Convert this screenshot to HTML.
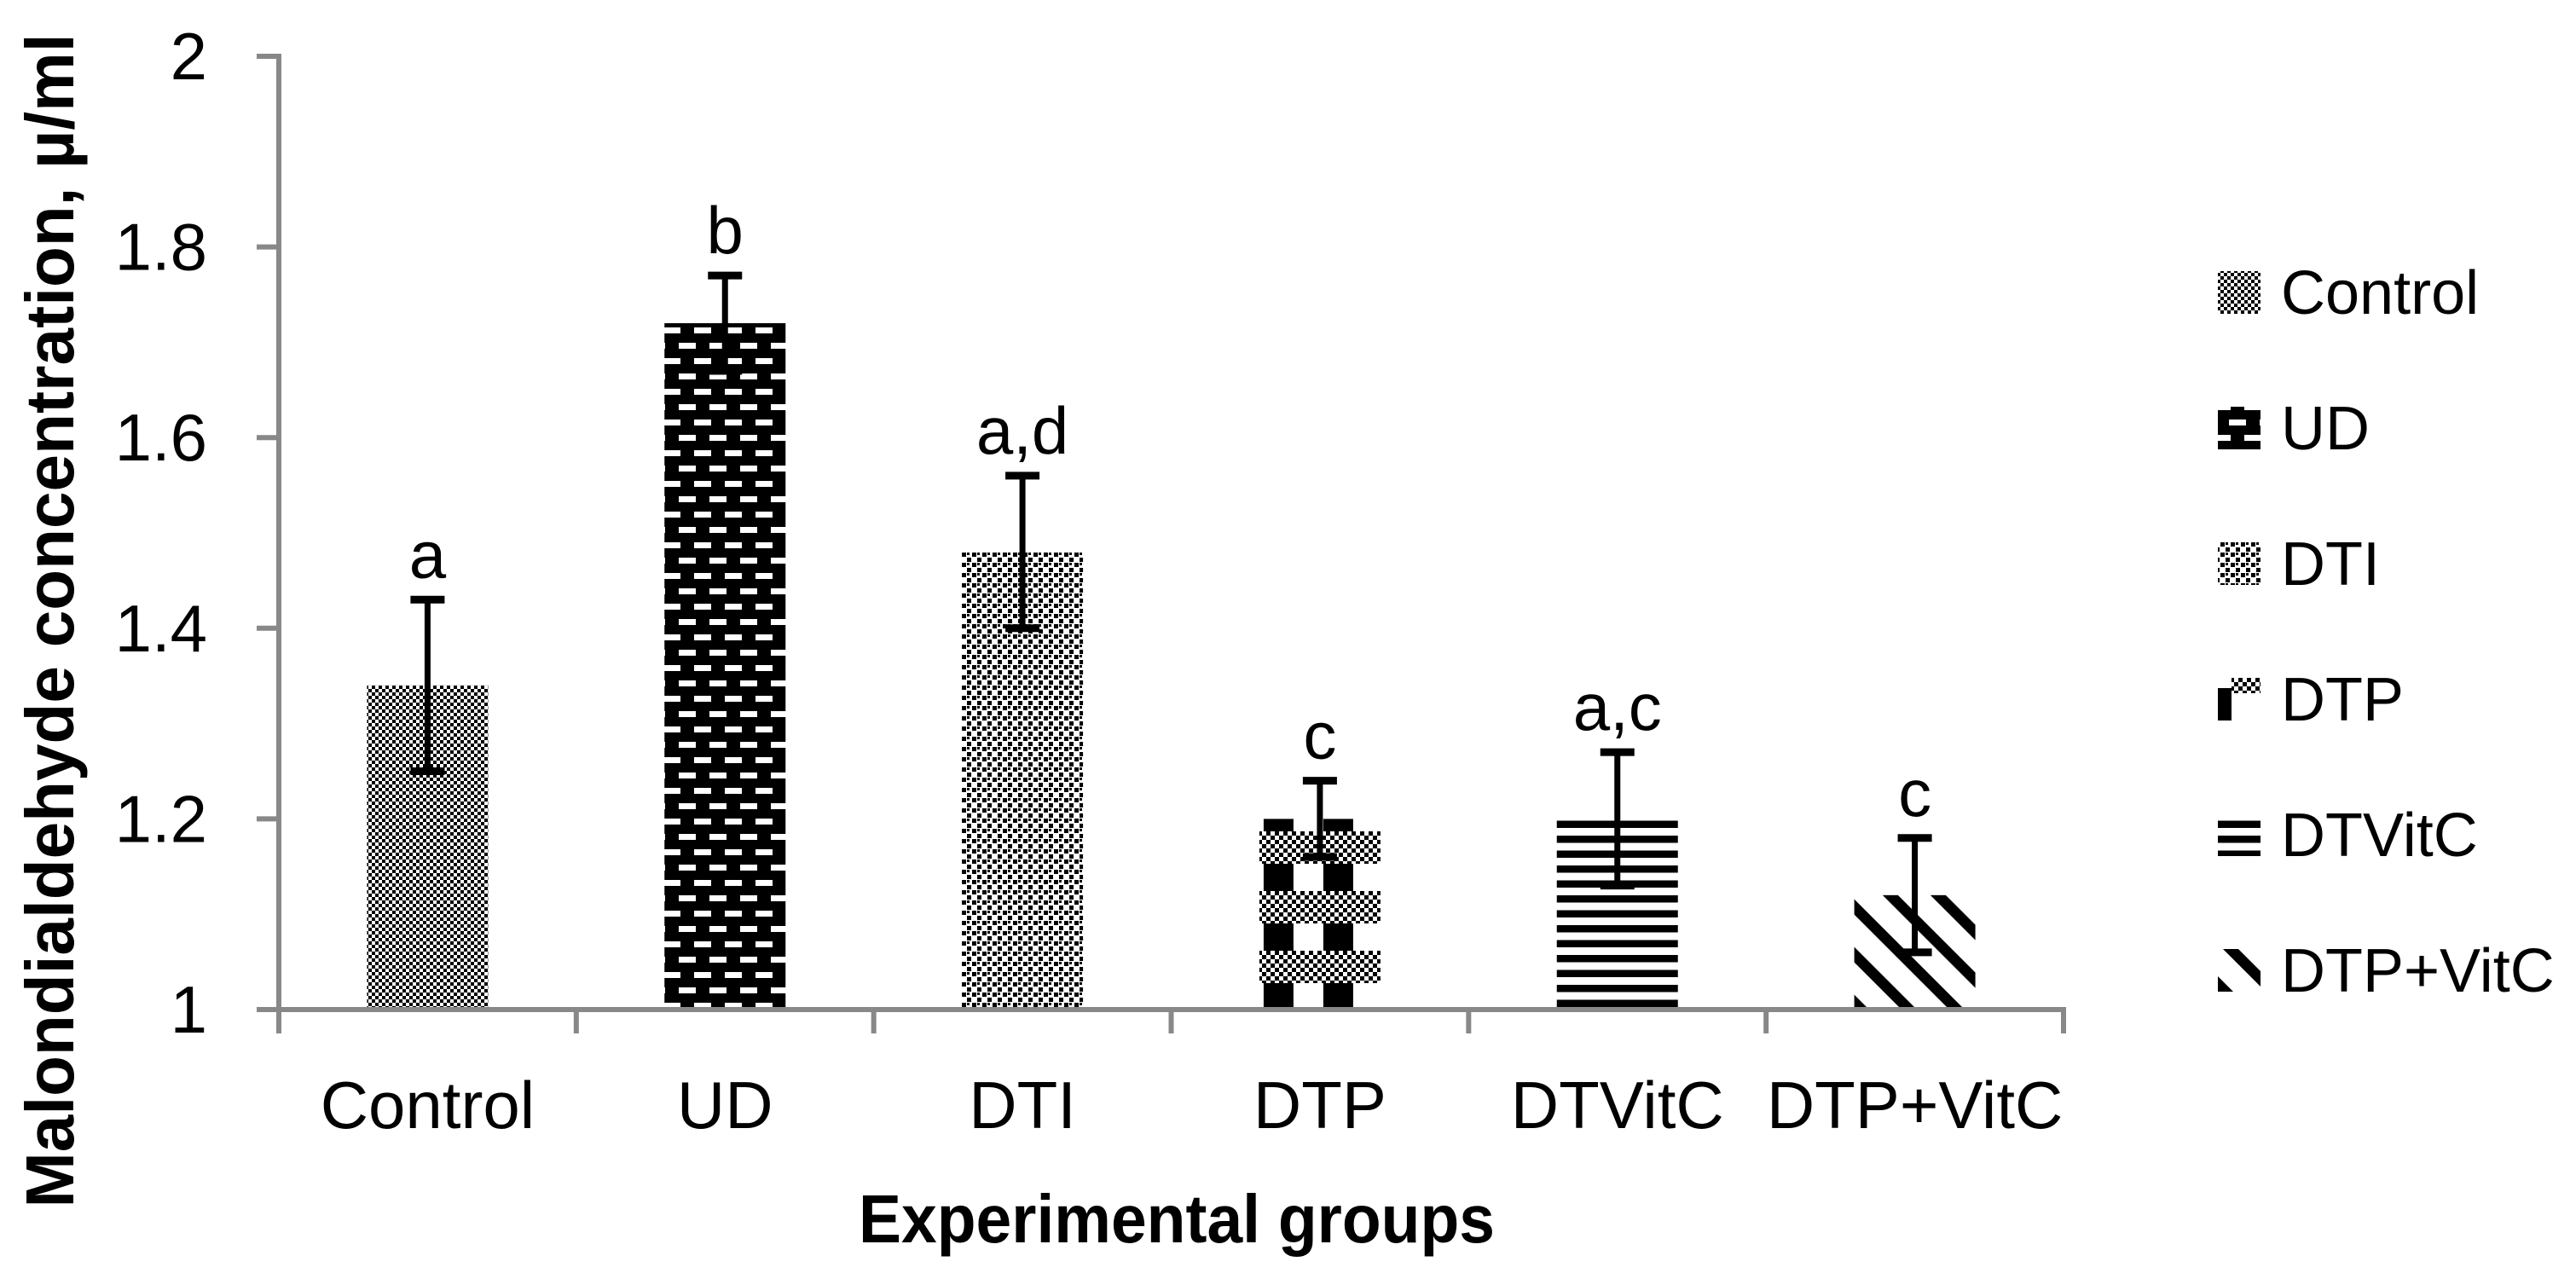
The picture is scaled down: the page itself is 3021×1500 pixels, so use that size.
<!DOCTYPE html>
<html><head><meta charset="utf-8"><style>
html,body{margin:0;padding:0;background:#fff;}
svg{display:block;font-family:"Liberation Sans",sans-serif;}
</style></head><body>
<svg id="chart" width="3021" height="1500" viewBox="0 0 3021 1500" xmlns="http://www.w3.org/2000/svg">
<defs>
  <pattern id="p-control" width="8" height="8" patternUnits="userSpaceOnUse">
    <rect width="8" height="8" fill="#fff"/><rect width="4" height="4" fill="#000"/><rect x="4" y="4" width="4" height="4" fill="#000"/>
  </pattern>
  <pattern id="p-ud" width="36" height="36" patternUnits="userSpaceOnUse">
    <rect width="36" height="36" fill="#000"/>
    <rect x="4" y="6" width="20" height="7" fill="#fff"/>
    <rect x="22" y="24" width="20" height="7" fill="#fff"/><rect x="-14" y="24" width="20" height="7" fill="#fff"/>
  </pattern>
  <pattern id="p-dti" width="12" height="12" patternUnits="userSpaceOnUse">
    <rect width="12" height="12" fill="#fff"/>
    <rect width="5" height="5" fill="#000"/><rect x="6" y="6" width="5" height="5" fill="#000"/>
    <rect x="6" y="0" width="3" height="3" fill="#000"/>
  </pattern>
  <pattern id="p-checker" width="10" height="10" patternUnits="userSpaceOnUse">
    <rect width="10" height="10" fill="#fff"/><rect width="5" height="5" fill="#000"/><rect x="5" y="5" width="5" height="5" fill="#000"/>
  </pattern>
  <pattern id="p-dtvitc" width="10" height="17.5" patternUnits="userSpaceOnUse">
    <rect width="10" height="17.5" fill="#fff"/><rect y="0" width="10" height="8.5" fill="#000"/>
  </pattern>
  <pattern id="p-diag" width="56" height="56" patternUnits="userSpaceOnUse">
    <rect width="56" height="56" fill="#fff"/>
    <path d="M-18,0 L0,0 L74,74 L56,74 Z M-18,-56 L0,-56 L74,18 L56,18 Z M-74,0 L-56,0 L18,74 L0,74 Z" fill="#000"/>
  </pattern>
</defs>
<g id="plot"></g>
</svg>
<script>
const categories = ["Control","UD","DTI","DTP","DTVitC","DTP+VitC"];
const means = [1.34,1.72,1.48,1.20,1.20,1.12];
const errors = [0.09,0.05,0.08,0.04,0.07,0.06];
const sigLetters = ["a","b","a,d","c","a,c","c"];
const yTicks = [1,1.2,1.4,1.6,1.8,2];
const yTickLabels = ["1","1.2","1.4","1.6","1.8","2"];

const NS="http://www.w3.org/2000/svg";
const svg=document.getElementById('chart');
const g=document.getElementById('plot');
const X0=327, X1=2420, Y0=1184, Y1=66, YMIN=1, YMAX=2;
const step=(X1-X0)/categories.length;
const barW=142;
function yScale(v){return Y0-(v-YMIN)/(YMAX-YMIN)*(Y0-Y1);}
function xCenter(i){return X0+step*(i+0.5);}
function mk(tag,attrs,parent){const e=document.createElementNS(NS,tag);for(const k in attrs)e.setAttribute(k,attrs[k]);(parent||g).appendChild(e);return e;}
const fills=["url(#p-control)","url(#p-ud)","url(#p-dti)",null,"url(#p-dtvitc)","url(#p-diag)"];

function dtpBar(x,y,w,h,parent){
  const grp=mk('g',{},parent);
  mk('rect',{x:x,y:y,width:w,height:h,fill:'#fff'},grp);
  mk('rect',{x:x+5,y:y,width:35,height:h,fill:'#000'},grp);
  mk('rect',{x:x+75,y:y,width:35,height:h,fill:'#000'},grp);
  const base=y+h;
  for(let b=0;b<3;b++){
    const by=base-28-b*70;
    if(by-38<y) continue;
    mk('rect',{x:x,y:by-38,width:w,height:38,fill:'url(#p-checker)'},grp);
  }
  return grp;
}

const axis=mk('g',{});


mk('line',{x1:X0,y1:Y1-3,x2:X0,y2:Y0+3,stroke:'#888','stroke-width':6},axis);
mk('line',{x1:X0-3,y1:Y0,x2:X1+3,y2:Y0,stroke:'#888','stroke-width':6},axis);
yTicks.forEach((t,i)=>{
  const y=yScale(t);
  const tk=mk('line',{x1:X0-26,y1:y,x2:X0,y2:y,stroke:'#888','stroke-width':6},axis);
  
  
  const lb=mk('text',{x:243,y:y+27,'text-anchor':'end','font-size':78,fill:'#000'},axis);
  lb.textContent=yTickLabels[i];
  
  
});
for(let i=0;i<=categories.length;i++){
  const x=X0+step*i;
  const tk=mk('line',{x1:x,y1:Y0,x2:x,y2:Y0+28,stroke:'#888','stroke-width':6},axis);
  
  
}
categories.forEach((c,i)=>{
  const cx=xCenter(i), top=yScale(means[i]);
  const x=cx-barW/2, h=Y0-3-top;
  let bar;
  if(fills[i]) bar=mk('rect',{x:x,y:top,width:barW,height:h,fill:fills[i]});
  else bar=dtpBar(x,top,barW,h,g);
  
  
  const eg=mk('g',{});
  
  
  const yh=yScale(means[i]+errors[i]), yl=yScale(means[i]-errors[i]);
  mk('line',{x1:cx,y1:yh,x2:cx,y2:yl,stroke:'#000','stroke-width':7},eg);
  mk('line',{x1:cx-20,y1:yh,x2:cx+20,y2:yh,stroke:'#000','stroke-width':9},eg);
  mk('line',{x1:cx-20,y1:yl,x2:cx+20,y2:yl,stroke:'#000','stroke-width':9},eg);
  const sl=mk('text',{x:cx,y:yh-26,'text-anchor':'middle','font-size':78,fill:'#000'});
  sl.textContent=sigLetters[i];
  
  
  const cl=mk('text',{x:cx,y:1323,'text-anchor':'middle','font-size':78,fill:'#000'});
  cl.textContent=c;
  
  
  const ly=368+i*159;
  const le=mk('g',{});
  
  
  if(fills[i]) mk('rect',{x:2601,y:ly-50,width:50,height:50,fill:fills[i]},le);
  else { mk('rect',{x:2601,y:ly-50,width:50,height:50,fill:'#fff'},le); mk('rect',{x:2601,y:ly-38,width:16,height:38,fill:'#000'},le); mk('rect',{x:2617,y:ly-50,width:34,height:18,fill:'url(#p-checker)'},le);}
  const lt=mk('text',{x:2675,y:ly,'font-size':72,fill:'#000'},le);
  lt.textContent=c;
});
const yt=mk('text',{x:0,y:0,transform:'translate(86,728) rotate(-90)','text-anchor':'middle','font-size':80,'font-weight':'bold',fill:'#000',textLength:1377,lengthAdjust:'spacingAndGlyphs'});
yt.textContent='Malondialdehyde concentration, µ/ml';


const xt=mk('text',{x:1380,y:1457,'text-anchor':'middle','font-size':80,'font-weight':'bold',fill:'#000',textLength:746,lengthAdjust:'spacingAndGlyphs'});
xt.textContent='Experimental groups';


</script>
</body></html>
